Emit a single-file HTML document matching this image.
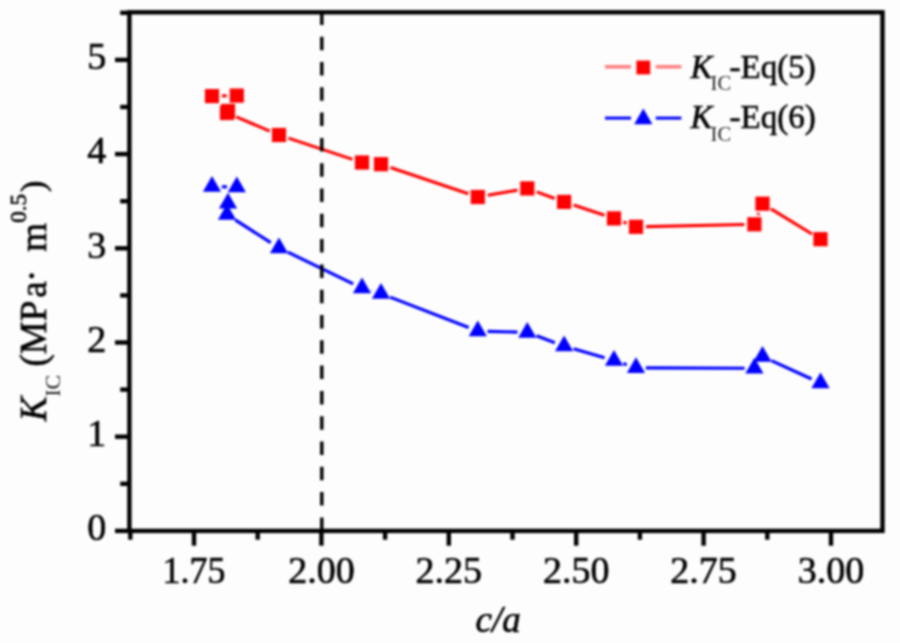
<!DOCTYPE html>
<html><head><meta charset="utf-8"><style>
html,body{margin:0;padding:0;background:#fdfdfd;width:900px;height:643px;overflow:hidden}
svg{display:block;font-family:"Liberation Serif", serif;filter:blur(0.8px)}
</style></head><body><svg width="900" height="643" viewBox="0 0 900 643"><g stroke="#ff0000" stroke-width="3.1" stroke-linecap="butt"><line x1="222.00" y1="95.90" x2="226.80" y2="95.80"/><line x1="236.21" y1="116.90" x2="269.79" y2="131.10"/><line x1="288.49" y1="138.15" x2="352.51" y2="159.35"/><line x1="390.47" y1="167.41" x2="468.33" y2="193.79"/><line x1="487.65" y1="195.29" x2="517.45" y2="190.11"/><line x1="536.69" y1="191.84" x2="554.71" y2="198.46"/><line x1="573.59" y1="205.04" x2="604.51" y2="215.26"/><line x1="623.34" y1="221.97" x2="626.66" y2="223.23"/><line x1="646.00" y1="226.59" x2="744.40" y2="224.51"/><line x1="758.06" y1="214.99" x2="758.84" y2="213.01"/><line x1="771.03" y1="208.92" x2="811.97" y2="233.98"/></g><g stroke="#0000ff" stroke-width="3.1" stroke-linecap="butt"><line x1="221.80" y1="186.80" x2="227.00" y2="186.90"/><line x1="235.25" y1="219.88" x2="270.75" y2="242.62"/><line x1="287.82" y1="252.17" x2="353.18" y2="283.83"/><line x1="371.41" y1="290.82" x2="371.59" y2="290.88"/><line x1="390.14" y1="297.14" x2="468.66" y2="327.56"/><line x1="487.60" y1="331.36" x2="517.50" y2="332.14"/><line x1="536.48" y1="335.82" x2="554.92" y2="342.68"/><line x1="573.52" y1="348.82" x2="604.58" y2="357.78"/><line x1="623.30" y1="363.59" x2="626.70" y2="364.71"/><line x1="645.80" y1="367.84" x2="744.60" y2="368.26"/><line x1="771.41" y1="360.67" x2="811.59" y2="379.03"/></g><g fill="#ff0000"><rect x="204.90" y="89.00" width="14.2" height="14.2"/><rect x="229.70" y="88.50" width="14.2" height="14.2"/><rect x="220.90" y="103.90" width="14.2" height="14.2"/><rect x="219.90" y="105.90" width="14.2" height="14.2"/><rect x="271.90" y="127.90" width="14.2" height="14.2"/><rect x="354.90" y="155.40" width="14.2" height="14.2"/><rect x="373.90" y="157.10" width="14.2" height="14.2"/><rect x="470.70" y="189.90" width="14.2" height="14.2"/><rect x="520.20" y="181.30" width="14.2" height="14.2"/><rect x="557.00" y="194.80" width="14.2" height="14.2"/><rect x="606.90" y="211.30" width="14.2" height="14.2"/><rect x="628.90" y="219.70" width="14.2" height="14.2"/><rect x="747.30" y="217.20" width="14.2" height="14.2"/><rect x="755.40" y="196.60" width="14.2" height="14.2"/><rect x="813.40" y="232.10" width="14.2" height="14.2"/></g><g fill="#0000ff"><path d="M212.00 176.09L221.10 191.85L202.90 191.85Z"/><path d="M236.80 176.59L245.90 192.35L227.70 192.35Z"/><path d="M228.00 192.79L237.10 208.55L218.90 208.55Z"/><path d="M227.00 204.09L236.10 219.85L217.90 219.85Z"/><path d="M279.00 237.39L288.10 253.15L269.90 253.15Z"/><path d="M362.00 277.59L371.10 293.35L352.90 293.35Z"/><path d="M381.00 283.09L390.10 298.85L371.90 298.85Z"/><path d="M477.80 320.59L486.90 336.35L468.70 336.35Z"/><path d="M527.30 321.89L536.40 337.65L518.20 337.65Z"/><path d="M564.10 335.59L573.20 351.35L555.00 351.35Z"/><path d="M614.00 349.99L623.10 365.75L604.90 365.75Z"/><path d="M636.00 357.29L645.10 373.05L626.90 373.05Z"/><path d="M754.40 357.79L763.50 373.55L745.30 373.55Z"/><path d="M762.50 346.09L771.60 361.85L753.40 361.85Z"/><path d="M820.50 372.59L829.60 388.35L811.40 388.35Z"/></g><line x1="321.80" y1="530.9" x2="321.80" y2="12.3" stroke="#000" stroke-width="3.4" stroke-dasharray="13.5 11.8"/><g stroke="#000" stroke-width="4.4" stroke-linecap="butt"><rect x="129.4" y="12.3" width="753.10" height="518.60" fill="none" stroke="#000" stroke-width="4.4"/><line x1="115.00" y1="530.90" x2="129.4" y2="530.90"/><line x1="115.00" y1="436.70" x2="129.4" y2="436.70"/><line x1="115.00" y1="342.50" x2="129.4" y2="342.50"/><line x1="115.00" y1="248.30" x2="129.4" y2="248.30"/><line x1="115.00" y1="154.10" x2="129.4" y2="154.10"/><line x1="115.00" y1="59.90" x2="129.4" y2="59.90"/><line x1="120.20" y1="483.80" x2="129.4" y2="483.80"/><line x1="120.20" y1="389.60" x2="129.4" y2="389.60"/><line x1="120.20" y1="295.40" x2="129.4" y2="295.40"/><line x1="120.20" y1="201.20" x2="129.4" y2="201.20"/><line x1="120.20" y1="107.00" x2="129.4" y2="107.00"/><line x1="120.20" y1="12.80" x2="129.4" y2="12.80"/><line x1="194.00" y1="530.9" x2="194.00" y2="545.70"/><line x1="321.40" y1="530.9" x2="321.40" y2="545.70"/><line x1="448.80" y1="530.9" x2="448.80" y2="545.70"/><line x1="576.20" y1="530.9" x2="576.20" y2="545.70"/><line x1="703.60" y1="530.9" x2="703.60" y2="545.70"/><line x1="831.00" y1="530.9" x2="831.00" y2="545.70"/><line x1="130.30" y1="530.9" x2="130.30" y2="539.70"/><line x1="257.70" y1="530.9" x2="257.70" y2="539.70"/><line x1="385.10" y1="530.9" x2="385.10" y2="539.70"/><line x1="512.50" y1="530.9" x2="512.50" y2="539.70"/><line x1="639.90" y1="530.9" x2="639.90" y2="539.70"/><line x1="767.30" y1="530.9" x2="767.30" y2="539.70"/></g><g font-family="Liberation Serif" font-size="38" fill="#000" stroke="#000" stroke-width="0.6"><text x="106.3" y="540.20" text-anchor="end">0</text><text x="106.3" y="446.00" text-anchor="end">1</text><text x="106.3" y="351.80" text-anchor="end">2</text><text x="106.3" y="257.60" text-anchor="end">3</text><text x="106.3" y="163.40" text-anchor="end">4</text><text x="106.3" y="69.20" text-anchor="end">5</text><text x="194.00" y="583.3" text-anchor="middle" transform="translate(193.70 0) scale(0.945 1) translate(-193.70 0)">1.75</text><text x="321.40" y="583.3" text-anchor="middle">2.00</text><text x="448.80" y="583.3" text-anchor="middle">2.25</text><text x="576.20" y="583.3" text-anchor="middle">2.50</text><text x="703.60" y="583.3" text-anchor="middle">2.75</text><text x="831.00" y="583.3" text-anchor="middle">3.00</text></g><text x="475.6" y="631.6" font-family="Liberation Serif" font-style="italic" font-size="37" stroke="#000" stroke-width="0.6">c/a</text><g transform="rotate(-90)" font-family="Liberation Serif" fill="#000" stroke="#000" stroke-width="0.6"><text x="-421.2" y="45.5" font-size="37" font-style="italic">K</text><text x="-396.8" y="59.5" font-size="22" stroke="none" fill="#222">IC</text><text x="-366.6" y="45.5" font-size="37">(MP</text><text x="-297.8" y="45.5" font-size="37">a</text><text x="-281.9" y="44" font-size="37">·</text><text x="-251.7" y="45.5" font-size="37">m</text><text x="-222.8" y="25.5" font-size="23">0.5</text><text x="-192.1" y="44.2" font-size="34">)</text></g><line x1="605" y1="66.8" x2="631" y2="66.8" stroke="#ff7f7f" stroke-width="3.5"/><line x1="655.7" y1="66.8" x2="681.4" y2="66.8" stroke="#ff7f7f" stroke-width="3.5"/><g fill="#ff0000"><rect x="636.40" y="60.60" width="13.8" height="13.8"/></g><line x1="605" y1="118.1" x2="631" y2="118.1" stroke="#0000ff" stroke-width="3"/><line x1="655.7" y1="118.1" x2="681.4" y2="118.1" stroke="#0000ff" stroke-width="3"/><g fill="#0000ff"><path d="M643.30 108.49L652.40 124.25L634.20 124.25Z"/></g><g font-family="Liberation Serif" font-size="33" stroke="#000" stroke-width="0.6"><text x="690.5" y="77.5" font-style="italic">K</text><text x="710.6" y="90.3" font-size="20.5" stroke="none" fill="#222">IC</text><text x="729.5" y="77.5">-Eq(5)</text></g><g font-family="Liberation Serif" font-size="33" stroke="#000" stroke-width="0.6"><text x="690.5" y="128.3" font-style="italic">K</text><text x="710.6" y="141.10000000000002" font-size="20.5" stroke="none" fill="#222">IC</text><text x="729.5" y="128.3">-Eq(6)</text></g></svg></body></html>
